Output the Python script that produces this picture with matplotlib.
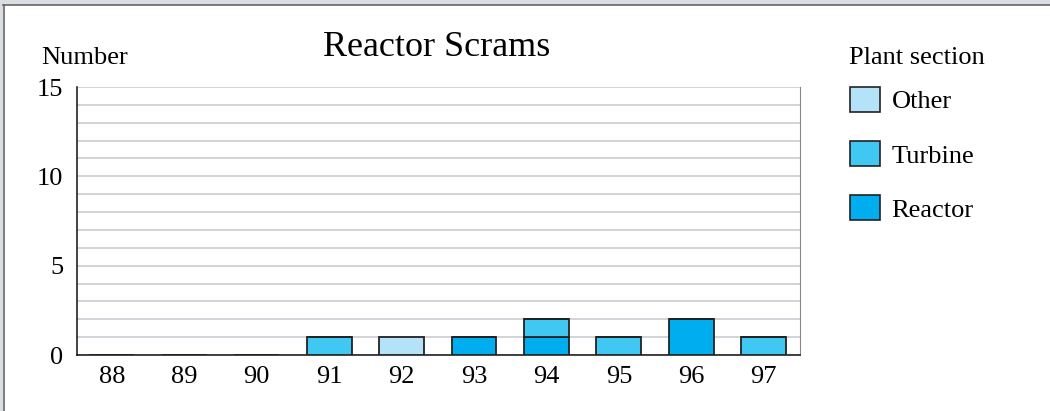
import matplotlib.pyplot as plt
import matplotlib.patches as mpatches
import numpy as np

# Data
years = ["88", "89", "90", "91", "92", "93", "94", "95", "96", "97"]
reactor = [0, 0, 0, 0, 0, 1, 1, 0, 2, 0]
turbine = [0, 0, 0, 1, 0, 0, 1, 1, 0, 1]
other = [0, 0, 0, 0, 1, 0, 0, 0, 0, 0]
sections = ["Reactor", "Turbine", "Other"]
colors = {"Reactor": "#00aeef", "Turbine": "#40c8f2", "Other": "#b3e2f9"}

plt.rcParams["font.family"] = ["Liberation Serif", "DejaVu Serif"]

fig = plt.figure(figsize=(10.5, 4.11), dpi=100)
ax = fig.add_axes([77 / 1050, 1 - 355 / 411, (800 - 77) / 1050, (355 - 87) / 411])

x = np.arange(len(years))
bottom = np.zeros(len(years))
for name, vals in zip(sections, [reactor, turbine, other]):
    ax.bar(x, vals, width=0.62, bottom=bottom, color=colors[name],
           edgecolor="#222222", linewidth=1.3, zorder=3, label=name)
    bottom += np.array(vals)

# Axes styling
ax.set_xlim(-0.48, 9.5)
ax.set_ylim(0, 15)
ax.set_yticks([0, 5, 10, 15])
ax.set_yticks(np.arange(1, 16), minor=True)
ax.set_xticks(x)
ax.set_xticklabels(years)
ax.tick_params(axis="both", which="both", length=0, labelsize=19)
ax.tick_params(axis="y", pad=10)
ax.tick_params(axis="x", pad=8)
ax.grid(axis="y", which="both", color="#c8cdd3", linewidth=1.2, zorder=0)
ax.spines["top"].set_visible(False)
ax.spines["left"].set_color("#111111")
ax.spines["bottom"].set_color("#111111")
ax.spines["right"].set_color("#888888")
ax.spines["left"].set_linewidth(1.1)
ax.spines["bottom"].set_linewidth(1.1)

# Texts
fig.text(437 / 1050, 1 - 47 / 411, "Reactor Scrams", ha="center", va="center", fontsize=26)
fig.text(41 / 1050, 1 - 58 / 411, "Number", ha="left", va="center", fontsize=19)
fig.text(849 / 1050, 1 - 58 / 411, "Plant section", ha="left", va="center", fontsize=19)

# Legend
handles = [mpatches.Patch(facecolor=colors[n], edgecolor="#222222", linewidth=1.2, label=n)
           for n in ["Other", "Turbine", "Reactor"]]
leg = fig.legend(handles=handles, loc="upper left",
                 bbox_to_anchor=(850 / 1050, 1 - 87 / 411), frameon=False,
                 fontsize=19, handlelength=1.12, handleheight=1.08,
                 labelspacing=1.05, handletextpad=0.45, borderaxespad=0, borderpad=0)

# Window frame (gray strips at top and left)
fig.patches.append(mpatches.Rectangle((0, 1 - 5 / 411), 1, 5 / 411, transform=fig.transFigure,
                                      facecolor="#d9dee3", edgecolor="none", zorder=0))
fig.patches.append(mpatches.Rectangle((0, 0), 3 / 1050, 1, transform=fig.transFigure,
                                      facecolor="#d9dee3", edgecolor="none", zorder=0))
fig.add_artist(plt.Line2D([3 / 1050, 1], [1 - 5.5 / 411, 1 - 5.5 / 411], transform=fig.transFigure,
                          color="#666666", linewidth=1.2))
fig.add_artist(plt.Line2D([3.5 / 1050, 3.5 / 1050], [0, 1 - 5.5 / 411], transform=fig.transFigure,
                          color="#666666", linewidth=1.2))

fig.savefig("out.png", dpi=100)
